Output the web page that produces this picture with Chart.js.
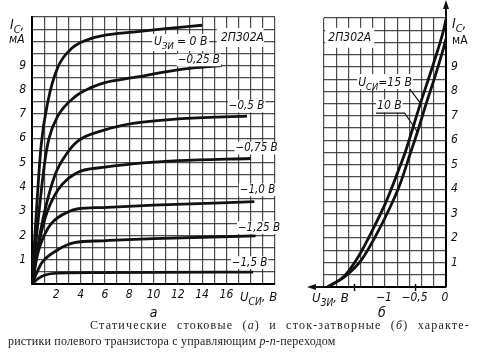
<!DOCTYPE html>
<html>
<head>
<meta charset="utf-8">
<script src="https://cdn.jsdelivr.net/npm/chart.js@4.4.0/dist/chart.umd.min.js"></script>
<style>
  body { margin: 0; background: #fff; }
  #wrap { position: relative; width: 477px; height: 359px; overflow: hidden; background: #fff; }
  #left { position: absolute; left: 0; top: 0; }
  #right { position: absolute; left: 290px; top: 0; }
  .cap { position: absolute; font-family: 'Liberation Serif', 'DejaVu Serif', serif; font-size: 12px; line-height: 14px;
         color: #222; text-align: justify; text-align-last: justify; white-space: nowrap; }
</style>
</head>
<body>
<div id="wrap">
  <canvas id="left" width="300" height="320"></canvas>
  <canvas id="right" width="187" height="320"></canvas>
  <div class="cap" style="left:90px; top:318px; width:380px; letter-spacing:1.2px;">Статические стоковые (<i>а</i>) и сток-затворные (<i>б</i>) характе-</div>
  <div class="cap" style="left:8px; top:334px; width:317px; letter-spacing:0.2px;">ристики полевого транзистора с управляющим <i>p-n</i>-переходом</div>
</div>
<script>
// (а) drain characteristics: Ic (mA) vs Uси (V), one curve per gate voltage
const gateVolts = ['0 В', '−0,25 В', '−0,5 В', '−0,75 В', '−1,0 В', '−1,25 В', '−1,5 В'];
const uds0   = [0, 0.35, 0.75, 1.3, 2.1, 3.3, 4.9, 6.0, 8.3, 11, 14];
const ic0    = [0, 2.9, 5.7, 7.5, 8.9, 9.72, 10.12, 10.25, 10.38, 10.52, 10.66];
const uds025 = [0, 0.5, 1.07, 1.4, 2.1, 3.5, 4.9, 6.0, 8.3, 12.4, 15.6];
const ic025  = [0, 2.6, 5.1, 6.0, 6.9, 7.7, 8.1, 8.3, 8.5, 8.85, 9.0];
const uds05  = [0, 0.5, 1.0, 1.9, 2.9, 3.8, 6.0, 8.3, 12, 17.7];
const ic05   = [0, 1.6, 2.9, 4.5, 5.4, 5.9, 6.35, 6.62, 6.8, 6.92];
const uds075 = [0, 0.5, 1.07, 2.1, 3.8, 5.8, 8.3, 12, 18];
const ic075  = [0, 1.5, 2.7, 3.85, 4.6, 4.8, 4.95, 5.08, 5.17];
const uds10  = [0, 0.5, 1.0, 1.6, 3.0, 3.8, 5.8, 10, 18.3];
const ic10   = [0, 1.3, 2.0, 2.5, 2.98, 3.1, 3.15, 3.25, 3.39];
const uds125 = [0, 0.5, 0.8, 2.1, 3.5, 5.8, 10, 18.4];
const ic125  = [0, 0.58, 0.87, 1.4, 1.7, 1.78, 1.87, 1.98];
const uds15  = [0, 0.5, 1.07, 2.1, 5, 10, 18.2];
const ic15   = [0, 0.22, 0.37, 0.45, 0.47, 0.48, 0.49];

// (б) transfer characteristics: Ic (mA) vs Uзи (V) for two drain voltages
const drainVolts = ['15 В', '10 В'];
const ugs15V = [-1.94, -1.67, -1.43, -1.21, -0.985, -0.79, -0.67, -0.42, -0.21, -0.04, 0];
const ic15V  = [0, 0.44, 1.27, 2.3, 3.47, 4.7, 5.5, 7.5, 9.1, 10.5, 10.95];
const ugs10V = [-1.94, -1.65, -1.38, -1.15, -0.93, -0.76, -0.58, -0.46, -0.35, -0.15, -0.02, 0];
const ic10V  = [0, 0.44, 1.13, 2.1, 3.19, 4.16, 5.5, 6.4, 7.3, 8.85, 9.95, 10.15];

const FONT = '"DejaVu Sans Condensed", "Liberation Sans Narrow", "DejaVu Sans", sans-serif';
const INK = '#111';
const GRID = 'rgba(45,45,45,0.85)';
const tickFont = { family: FONT, size: 12, style: 'italic' };

function series(xs, ys) {
	return xs.map((v, i) => ({ x: v, y: ys[i] }));
}

function curve(label, xs, ys) {
	return { label: label, data: series(xs, ys), borderColor: INK, borderWidth: 2.8,
		pointRadius: 0, cubicInterpolationMode: 'monotone', fill: false };
}

//text helpers: italic main letter, lowered subscript, then the rest
function subWidth(ctx, main, sub, rest, size) {
	ctx.font = `italic ${size}px ${FONT}`;
	let w = ctx.measureText(main).width + ctx.measureText(rest).width;
	ctx.font = `italic ${size * 0.78}px ${FONT}`;
	return w + ctx.measureText(sub).width;
}

function subText(ctx, main, sub, rest, x, y, size) {
	ctx.textAlign = 'left';
	ctx.textBaseline = 'alphabetic';
	ctx.font = `italic ${size}px ${FONT}`;
	ctx.fillText(main, x, y);
	let w = ctx.measureText(main).width;
	ctx.font = `italic ${size * 0.78}px ${FONT}`;
	ctx.fillText(sub, x + w, y + size * 0.3);
	w += ctx.measureText(sub).width;
	ctx.font = `italic ${size}px ${FONT}`;
	ctx.fillText(rest, x + w, y);
}

function plainLabel(ctx, text, x, yMid, size, pad) {
	ctx.font = `italic ${size}px ${FONT}`;
	const w = ctx.measureText(text).width;
	ctx.fillStyle = '#fff';
	ctx.fillRect(x - pad, yMid - size * 0.55, w + pad * 2, size * 1.1);
	ctx.fillStyle = INK;
	ctx.textAlign = 'left';
	ctx.textBaseline = 'middle';
	ctx.fillText(text, x, yMid);
	return w;
}

function arrowHead(ctx, x, y, dir) {
	ctx.beginPath();
	if (dir === 'up') {
		ctx.moveTo(x, y); ctx.lineTo(x - 3, y + 9); ctx.lineTo(x + 3, y + 9);
	} else {
		ctx.moveTo(x, y); ctx.lineTo(x + 9, y - 3); ctx.lineTo(x + 9, y + 3);
	}
	ctx.closePath();
	ctx.fill();
}

//annotations of the left panel
const leftText = {
	id: 'leftText',
	afterDraw(chart) {
		const { ctx, chartArea: a, scales: { x, y } } = chart;
		ctx.save();
		ctx.fillStyle = INK;

		// gate voltage labels next to the curve ends
		const at = [[12.0, 9.23], [16.2, 7.33], [16.75, 5.6], [17.1, 3.88], [16.95, 2.32], [16.45, 0.88]];
		gateVolts.slice(1).forEach((t, i) => {
			plainLabel(ctx, t, x.getPixelForValue(at[i][0]), y.getPixelForValue(at[i][1]), 11.5, 1);
		});

		// U_ЗИ = 0 В in a white box
		const bx = x.getPixelForValue(10.05), by = y.getPixelForValue(9.97);
		const w0 = subWidth(ctx, 'U', 'ЗИ', ' = ' + gateVolts[0], 12);
		ctx.fillStyle = '#fff';
		ctx.fillRect(bx - 2, by - 8, w0 + 4, 17);
		ctx.fillStyle = INK;
		subText(ctx, 'U', 'ЗИ', ' = ' + gateVolts[0], bx, by + 3, 12);

		// device type
		ctx.fillStyle = '#fff';
		ctx.fillRect(x.getPixelForValue(15.2), y.getPixelForValue(10.55), 47, 19);
		ctx.fillStyle = INK;
		plainLabel(ctx, '2П302А', x.getPixelForValue(15.55), y.getPixelForValue(10.13), 12, 0);

		// axis titles
		subText(ctx, 'I', 'C', ',', a.left - 22, a.top + 12, 14);
		ctx.font = `italic 12px ${FONT}`;
		ctx.fillText('мА', a.left - 23, a.top + 26);
		subText(ctx, 'U', 'СИ', ', В', a.right - 35, a.bottom + 17, 13);
		ctx.font = `italic 14px ${FONT}`;
		ctx.textAlign = 'center';
		ctx.fillText('а', x.getPixelForValue(10), a.bottom + 33);
		ctx.restore();
	}
};

//annotations of the right panel
const rightText = {
	id: 'rightText',
	afterDraw(chart) {
		const { ctx, chartArea: a, scales: { x, y } } = chart;
		ctx.save();
		ctx.fillStyle = INK;
		ctx.strokeStyle = INK;

		// axis arrows
		ctx.lineWidth = 2;
		ctx.beginPath();
		ctx.moveTo(a.right, a.top);
		ctx.lineTo(a.right, 6);
		ctx.moveTo(a.left, a.bottom);
		ctx.lineTo(a.left - 12, a.bottom);
		ctx.stroke();
		arrowHead(ctx, a.right, 0, 'up');
		arrowHead(ctx, a.left - 17, a.bottom, 'left');

		// tick marks and value labels on the gate voltage axis
		ctx.lineWidth = 1.5;
		[-1.5, -0.5].forEach(v => {
			const px = x.getPixelForValue(v);
			ctx.beginPath();
			ctx.moveTo(px, a.bottom - 3);
			ctx.lineTo(px, a.bottom + 4);
			ctx.stroke();
		});
		ctx.font = `italic 12px ${FONT}`;
		ctx.textAlign = 'center';
		ctx.textBaseline = 'middle';
		[[-1, '−1'], [-0.5, '−0,5'], [0, '0']].forEach(([v, t]) => {
			ctx.fillText(t, x.getPixelForValue(v) - 1, a.bottom + 11);
		});
		ctx.font = `italic 14px ${FONT}`;
		ctx.fillText('б', x.getPixelForValue(-1) - 3, a.bottom + 26);
		subText(ctx, 'U', 'ЗИ', ', В', a.left - 12, a.bottom + 15, 13);

		// device type
		ctx.fillStyle = '#fff';
		ctx.fillRect(x.getPixelForValue(-1.98), y.getPixelForValue(10.6), 49, 20);
		ctx.fillStyle = INK;
		plainLabel(ctx, '2П302А', x.getPixelForValue(-1.93), y.getPixelForValue(10.18), 12, 0);

		// drain voltage labels with leaders
		const lx = x.getPixelForValue(-1.44), ly = y.getPixelForValue(8.38);
		const w15 = subWidth(ctx, 'U', 'СИ', '=' + drainVolts[0], 12);
		ctx.fillStyle = '#fff';
		ctx.fillRect(lx - 1, ly - 8, w15 + 2, 15);
		ctx.fillStyle = INK;
		subText(ctx, 'U', 'СИ', '=' + drainVolts[0], lx, ly + 4, 12);
		ctx.lineWidth = 1.2;
		ctx.beginPath();
		ctx.moveTo(lx + w15 - 2, ly + 7);
		ctx.lineTo(x.getPixelForValue(-0.43), y.getPixelForValue(7.55));
		ctx.stroke();

		const tx = x.getPixelForValue(-1.13), ty = y.getPixelForValue(7.4);
		const w10 = plainLabel(ctx, drainVolts[1], tx, ty, 12, 1);
		ctx.beginPath();
		ctx.moveTo(tx - 1, ty + 7);
		ctx.lineTo(tx + w10 + 3, ty + 7);
		ctx.lineTo(x.getPixelForValue(-0.47), y.getPixelForValue(6.35));
		ctx.stroke();

		// current axis title
		subText(ctx, 'I', 'C', ',', a.right + 6, a.top + 10, 14);
		ctx.font = `12px ${FONT}`;
		ctx.textAlign = 'left';
		ctx.fillText('мА', a.right + 6, a.top + 26);
		ctx.restore();
	}
};

const gridOpts = { color: GRID, lineWidth: 1.2, drawTicks: false };
const axisLine = { display: true, color: '#000', width: 2 };

new Chart(document.getElementById('left'), {
	type: 'line',
	data: {
		datasets: [
			curve(gateVolts[0], uds0, ic0),
			curve(gateVolts[1], uds025, ic025),
			curve(gateVolts[2], uds05, ic05),
			curve(gateVolts[3], uds075, ic075),
			curve(gateVolts[4], uds10, ic10),
			curve(gateVolts[5], uds125, ic125),
			curve(gateVolts[6], uds15, ic15)
		]
	},
	options: {
		responsive: false,
		animation: false,
		devicePixelRatio: 1,
		layout: { padding: { left: 0, top: 17, right: 25, bottom: 0 }, autoPadding: false },
		plugins: { legend: { display: false }, tooltip: { enabled: false } },
		scales: {
			x: {
				type: 'linear', min: 0, max: 20,
				afterFit: s => { s.height = 36; },
				ticks: { stepSize: 1, autoSkip: false, maxRotation: 0, padding: 4, color: INK, font: tickFont,
					callback: v => (v % 2 === 0 && v >= 2 && v <= 16) ? String(v) : '' },
				grid: gridOpts,
				border: axisLine
			},
			y: {
				type: 'linear', min: 0, max: 11,
				afterFit: s => { s.width = 32; },
				ticks: { stepSize: 0.5, autoSkip: false, padding: 6, color: INK, font: tickFont,
					callback: v => (Number.isInteger(v) && v >= 1 && v <= 9) ? String(v) : '' },
				grid: gridOpts,
				border: axisLine
			}
		}
	},
	plugins: [leftText]
});

new Chart(document.getElementById('right'), {
	type: 'line',
	data: {
		datasets: [
			curve(drainVolts[0], ugs15V, ic15V),
			curve(drainVolts[1], ugs10V, ic10V)
		]
	},
	options: {
		responsive: false,
		animation: false,
		devicePixelRatio: 1,
		layout: { padding: { left: 34, top: 18, right: 0, bottom: 0 }, autoPadding: false },
		plugins: { legend: { display: false }, tooltip: { enabled: false } },
		scales: {
			x: {
				type: 'linear', min: -2, max: 0,
				afterFit: s => { s.height = 33; },
				ticks: { display: false, stepSize: 0.2 },
				grid: gridOpts,
				border: axisLine
			},
			y: {
				type: 'linear', position: 'right', min: 0, max: 11,
				afterFit: s => { s.width = 31; },
				ticks: { stepSize: 0.5, autoSkip: false, padding: 5, color: INK, font: tickFont,
					callback: v => (Number.isInteger(v) && v >= 1 && v <= 9) ? String(v) : '' },
				grid: gridOpts,
				border: axisLine
			}
		}
	},
	plugins: [rightText]
});
</script>
</body>
</html>
